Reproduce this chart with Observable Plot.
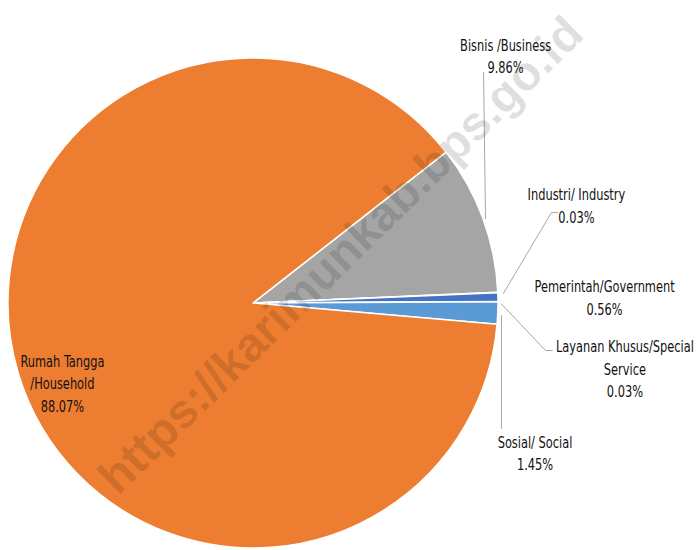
<!DOCTYPE html>
<html>
<head>
<meta charset="utf-8">
<script src="https://cdn.jsdelivr.net/npm/d3@7"></script>
<script src="https://cdn.jsdelivr.net/npm/@observablehq/plot@0.6"></script>
<style>
  html, body { margin: 0; padding: 0; background: #fff; }
  #chart { width: 696px; height: 550px; }
</style>
</head>
<body>
<div id="chart"></div>
<script>
// ---- data ----
const categories = ["Bisnis /Business", "Industri/ Industry", "Pemerintah/Government", "Layanan Khusus/Special\nService", "Sosial/ Social", "Rumah Tangga\n/Household"];
const shares = [9.86, 0.03, 0.56, 0.03, 1.45, 88.07];
const shareLabels = ["9.86%", "0.03%", "0.56%", "0.03%", "1.45%", "88.07%"];
const colors = ["#A5A5A5", "#FFC000", "#4472C4", "#70AD47", "#5B9BD5", "#ED7D31"];
const watermark = "https://karimunkab.bps.go.id";

// ---- layout (pie radius = 1 data unit, centre at 0,0) ----
const labelPos = [
  [1.029, 1.016], [1.318, 0.404], [1.433, 0.0285],
  [1.516, -0.261], [1.149, -0.606], [-0.780, -0.320]
];
const leaders = [
  [[0.939, 0.943], [0.947, 0.347]],
  [[1.241, 0.371], [1.216, 0.371], [1.020, 0.041]],
  [[1.012, -0.002], [1.192, -0.192], [1.220, -0.192]],
  [[1.012, -0.049], [1.012, -0.510]]
];

const table = categories.map((c, i) => ({
  name: c, value: shares[i], pct: shareLabels[i], color: colors[i],
  lx: labelPos[i][0], ly: labelPos[i][1],
  text: c + "\n" + shareLabels[i]
}));
const leaderRows = leaders.flatMap((pts, k) => pts.map(([x, y]) => ({k, x, y})));

const pie = d3.pie().sort(null).value(d => d.value)
  .startAngle(52 * Math.PI / 180).endAngle(52 * Math.PI / 180 + 2 * Math.PI);
const arcs = pie(table);

function pieMark(index, scales) {
  const cx = scales.x(0), cy = scales.y(0);
  const r = scales.x(1) - cx;
  const arc = d3.arc().innerRadius(0).outerRadius(r);
  const g = d3.create("svg:g").attr("transform", `translate(${cx},${cy})`);
  g.selectAll("path").data(arcs).join("path")
    .attr("d", arc)
    .attr("fill", d => d.data.color)
    .attr("stroke", "#fff")
    .attr("stroke-width", 1.5)
    .attr("stroke-linejoin", "round");
  return g.node();
}

const font = "'DejaVu Sans Condensed', 'Liberation Sans', sans-serif";

const plot = Plot.plot({
  width: 696,
  height: 550,
  margin: 0,
  x: {domain: [-253 / 245, 443 / 245], range: [0, 696], axis: null},
  y: {domain: [-247 / 245, 303 / 245], range: [550, 0], axis: null},
  style: {background: "#fff"},
  marks: [
    pieMark,
    Plot.line(leaderRows, {x: "x", y: "y", z: "k", stroke: "#A6A6A6", strokeWidth: 1}),
    Plot.text(table, {
      x: "lx", y: "ly", text: "text",
      fontSize: 15, lineHeight: 1.5, fill: "#111",
      fontFamily: font, textAnchor: "middle",
      className: "pie-labels"
    }),
    Plot.text([watermark], {
      x: [0.358], y: [0.196], text: d => d,
      rotate: -44.5, fontSize: 48, fontWeight: "bold",
      fontFamily: "'Liberation Sans', Arial, sans-serif",
      fill: "#000", fillOpacity: 0.12
    })
  ]
});

// condense the label glyphs horizontally (narrow type face look)
d3.select(plot).selectAll(".pie-labels text").each(function() {
  const t = this.getAttribute("transform");
  if (t) {
    this.setAttribute("transform", t + " scale(0.845,1)");
  } else {
    const x = +this.getAttribute("x") || 0, y = +this.getAttribute("y") || 0;
    this.removeAttribute("x"); this.removeAttribute("y");
    this.setAttribute("transform", `translate(${x},${y}) scale(0.845,1)`);
  }
});
document.getElementById("chart").appendChild(plot);
</script>
</body>
</html>
